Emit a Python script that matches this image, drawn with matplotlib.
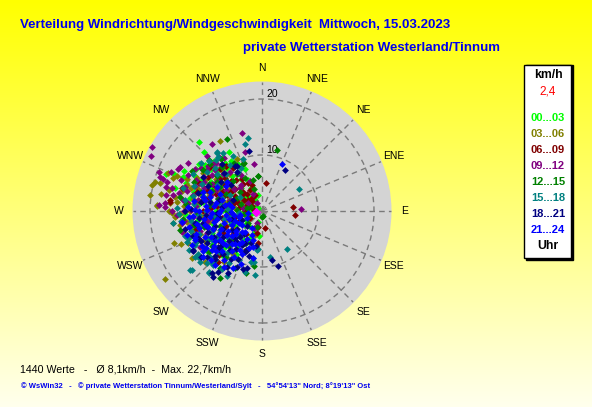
import numpy as np
import matplotlib
matplotlib.use("Agg")
import matplotlib.pyplot as plt
from matplotlib.patches import Circle, Rectangle

plt.rcParams['font.family'] = ['Liberation Sans', 'DejaVu Sans']

# ── data (direction in degrees, speed in km/h) ──────────────────────────────

DIRECTIONS = ["N", "NNE", "NE", "ENE", "E", "ESE", "SE", "SSE",
              "S", "SSW", "SW", "WSW", "W", "WNW", "NW", "NNW"]
RINGS = [10, 20]
R_MAX = 23.0

HOUR_LABELS = ["00...03", "03...06", "06...09", "09...12",
               "12...15", "15...18", "18...21", "21...24"]
HOUR_COLORS = ["#00ff00", "#808000", "#800000", "#800080",
               "#008000", "#008080", "#000080", "#0000ff"]

H00_03 = [(317.6, 16.6), (315.5, 14.8), (331.1, 12.1), (306.7, 14.0), (308.9, 13.1),
          (336.2, 6.1), (291.2, 18.3), (292.5, 17.1), (293.4, 15.4), (210.6, 9.1),
          (186, 4.5), (211, 9.0), (300, 10.5), (296, 12.2), (288, 11.0), (305, 8.8),
          (312, 9.5), (320, 8.2), (326, 6.8), (318, 5.5), (300, 6.4), (290, 7.8),
          (282, 9.6), (275, 11.5), (270, 8.2), (262, 6.0), (255, 9.0), (248, 7.2),
          (240, 5.5), (232, 8.8), (225, 6.2), (265, 3.5), (275, 4.6), (285, 3.1),
          (295, 2.4), (308, 3.8), (260, 1.8), (250, 2.6), (240, 3.2), (230, 4.0),
          (220, 3.5), (245, 11.0), (255, 12.5), (268, 13.8), (280, 13.0), (290, 14.5),
          (298, 13.5), (310, 11.8), (322, 10.8), (284, 5.6), (272, 6.9), (258, 4.4),
          (246, 9.8), (236, 10.5), (226, 9.2), (216, 7.4), (205, 5.9), (200, 4.2),
          (265, 10.3), (278, 2.2), (300, 1.5), (345, 3.0), (335, 4.6), (252, 5.3),
          (262, 11.6), (327, 2.3), (300, 0.9), (250, 1.3), (204, 5.3), (212, 6.1),
          (200, 2.1), (303, 11.2), (307, 12.8), (313, 10.8), (316, 12.4), (321, 9.8),
          (324, 12.0), (328, 10.6), (333, 9.4), (338, 8.0), (302, 14.0), (294, 10.0),
          (286, 12.6), (279, 10.6), (285, 16.0), (297, 15.6), (274, 9.4), (266, 8.0),
          (258, 10.8), (250, 13.6), (241, 8.0), (234, 12.2), (222, 10.6), (214, 5.0),
          (292, 5.4), (304, 4.6), (318, 3.4), (280, 7.0), (270, 2.6)]

H03_06 = [(292, 18.2), (329, 14.6), (334, 10.3), (234.9, 21.2), (250.2, 16.7),
          (272.9, 18.7), (268.9, 16.0), (290.2, 16.9), (292.3, 16.4), (285.3, 19.8),
          (283.3, 20.2), (285.2, 18.9), (289, 14.2), (279.5, 18.3), (276.2, 15.3),
          (278.1, 20.2), (273.3, 18.7), (255.3, 14.5), (216.6, 11.3), (280, 12.5),
          (285, 11.2), (290, 10.4), (278, 9.0), (270, 12.8), (265, 11.0), (272, 7.5),
          (282, 6.8), (295, 8.5), (300, 11.5), (305, 10.0), (288, 13.4), (262, 13.6),
          (258, 9.6), (250, 11.8), (244, 8.4), (238, 12.2), (230, 10.8), (276, 4.8),
          (292, 4.2), (310, 6.5), (318, 8.8), (284, 14.8), (268, 14.6), (255, 6.8),
          (240, 6.0), (226, 7.6), (214, 9.2), (205, 7.8), (195, 4.5), (300, 3.5),
          (260, 3.8), (247, 14.4), (262, 16.0), (275, 16.5), (274, 14.0), (277, 12.0),
          (281, 10.6), (286, 9.8), (289, 12.0), (293, 14.6), (297, 13.0), (303, 12.6),
          (279, 15.8), (283, 17.0), (270, 16.6), (266, 15.6), (260, 14.8), (253, 13.0),
          (248, 15.6), (243, 11.6), (236, 15.0), (228, 13.6), (268, 6.0), (288, 6.2),
          (304, 7.0), (316, 10.2)]

H06_09 = [(7.6, 5.0), (82.1, 5.6), (97, 5.9), (169.6, 3.0), (193.4, 4.1), (193, 2.9),
          (186.5, 5.8), (220.8, 12.0), (276.8, 16.5), (285.8, 14.9), (321.3, 10.4),
          (275.8, 16.5), (336.4, 3.1), (316, 4.8), (288, 4.5), (291.4, 2.9), (301, 6.7),
          (290.3, 7.4), (238.7, 2.5), (321, 10.3), (300, 5.5), (310, 6.2), (318, 4.0),
          (325, 5.8), (295, 6.8), (285, 5.2), (278, 6.4), (305, 8.0), (312, 8.9),
          (320, 7.2), (330, 4.4), (290, 8.8), (282, 10.2), (298, 9.8), (308, 3.2),
          (296, 2.0), (270, 3.0), (265, 5.4), (276, 8.0), (260, 7.2), (250, 9.4),
          (240, 8.0), (232, 6.6), (245, 4.8), (286, 12.0), (302, 11.4), (315, 10.5),
          (326, 9.2), (340, 5.0), (270, 10.6), (255, 12.2), (228, 10.6), (215, 5.0),
          (205, 3.4), (287, 2.5), (275, 1.5), (293, 5.0), (297, 7.8), (301, 3.8),
          (304, 6.4), (307, 9.4), (311, 4.6), (314, 7.6), (316, 2.6), (322, 3.0),
          (328, 6.8), (334, 5.6), (281, 4.0), (284, 7.8), (288, 6.0), (291, 10.6),
          (294, 12.4), (279, 11.4), (273, 9.2), (268, 7.8), (262, 10.2), (257, 5.0),
          (248, 7.0), (236, 9.4), (224, 11.0), (310, 12.2)]

H09_12 = [(300.4, 22.7), (296.4, 22.2), (290.6, 19.6), (296.6, 16.7), (345.8, 14.4),
          (343.8, 10.9), (321.4, 12.4), (350.6, 8.5), (87.5, 7.0), (323.3, 14.9),
          (302.7, 15.8), (313.4, 12.1), (316, 11.8), (332.9, 3.4), (288.6, 19.2),
          (287.1, 17.8), (284.1, 16.6), (274.5, 17.4), (273.3, 18.5), (272.5, 17.3),
          (261.3, 14.5), (279.5, 17.4), (284.3, 17.6), (287.9, 18.6), (295, 13.0),
          (300, 12.0), (305, 13.4), (310, 12.6), (290, 12.8), (285, 13.8), (292, 11.2),
          (298, 10.2), (306, 11.0), (314, 9.6), (320, 9.0), (288, 9.5), (280, 11.6),
          (276, 13.2), (282, 15.2), (296, 14.8), (270, 14.0), (265, 12.4), (258, 13.0),
          (250, 13.8), (268, 9.2), (276, 7.0), (290, 6.0), (300, 7.4), (310, 7.8),
          (322, 6.0), (260, 10.0), (248, 10.6), (240, 12.8), (315, 13.8), (337.7, 5.7),
          (325, 1.7), (300, 2.8), (280, 3.4), (203, 2.4), (202, 3.3), (283, 12.6),
          (287, 14.4), (291, 15.4), (294, 12.0), (297, 11.6), (302, 14.2), (307, 12.2),
          (311, 11.2), (318, 11.0), (324, 11.6), (278, 14.2), (274, 11.8), (271, 12.6),
          (267, 15.2), (263, 14.0), (255, 14.8), (252, 11.6), (245, 12.2), (286, 8.2),
          (295, 9.0), (304, 9.6), (308, 6.4), (316, 5.6), (330, 7.4), (262, 9.0),
          (280, 16.2), (298, 16.6), (293, 17.6), (270, 16.0)]

H12_15 = [(334.2, 14.2), (339.4, 9.2), (14.1, 11.2), (353.5, 6.3), (167, 1.0),
          (194.4, 11.5), (216.2, 12.7), (338.2, 9.0), (344.3, 5.7), (353.8, 6.2),
          (314, 13.1), (183, 1.0), (198.7, 3.0), (212.2, 14.1), (187.9, 10.0),
          (206.3, 6.4), (285, 8.2), (292, 9.6), (300, 8.6), (308, 10.2), (316, 7.4),
          (322, 11.8), (330, 9.9), (278, 11.0), (270, 6.2), (262, 8.4), (255, 10.8),
          (248, 6.0), (240, 9.2), (232, 12.0), (224, 8.6), (218, 10.4), (210, 6.8),
          (288, 4.0), (298, 5.0), (312, 5.2), (275, 13.6), (264, 14.2), (245, 13.0),
          (305, 12.8), (295, 7.0), (281, 2.8), (260, 3.2), (230, 3.2), (222, 5.6),
          (300, 14.4), (287, 11.4), (293, 13.2), (297, 10.6), (303, 9.6), (311, 8.2),
          (318, 10.6), (326, 8.0), (333, 6.6), (276, 9.4), (268, 11.6), (258, 12.4),
          (250, 8.0), (242, 11.0), (235, 10.8), (228, 7.4), (214, 8.2), (205, 11.2),
          (283, 6.0), (272, 4.4), (290, 2.0), (340, 4.2), (312, 12.6), (280, 14.8),
          (257, 15.0)]

H15_18 = [(348.8, 13.2), (345.7, 12.3), (322.7, 13.2), (59.8, 7.7), (185.5, 6.9),
          (170, 8.3), (146.5, 8.2), (189, 9.2), (186.2, 11.5), (220.8, 14.5),
          (230, 16.4), (262.1, 16.0), (232.1, 13.3), (313.7, 13.0), (247.8, 14.5),
          (235.7, 14.5), (233.6, 13.8), (230.7, 14.3), (226.6, 13.6), (220.2, 14.6),
          (187.7, 7.0), (249.7, 14.0), (243.1, 13.4), (234.3, 14.0), (223.8, 12.1),
          (223.9, 13.0), (230.7, 16.6), (195.6, 11.3), (192.2, 9.3), (190.4, 8.6),
          (250, 12.0), (256, 10.5), (262, 12.8), (268, 14.8), (244, 11.0), (238, 9.4),
          (246, 8.2), (258, 7.0), (270, 10.0), (276, 12.2), (284, 10.8), (290, 13.0),
          (300, 9.2), (310, 10.4), (318, 12.2), (325, 10.0), (332, 11.2), (228, 12.4),
          (236, 13.8), (242, 14.8), (252, 14.4), (260, 5.4), (274, 6.0), (288, 7.6),
          (302, 4.6), (232, 7.8), (220, 9.8), (212, 11.0), (205, 9.6), (265, 8.6),
          (322.5, 13.1), (320.5, 12.4), (340, 9.8), (240, 10.4), (245, 12.8),
          (248, 9.6), (254, 13.2), (257, 11.6), (263, 14.6), (266, 11.2), (272, 15.2),
          (278, 13.8), (282, 12.6), (286, 14.6), (294, 11.8), (298, 14.0), (305, 12.0),
          (308, 13.8), (312, 11.4), (316, 9.2), (326, 12.4), (328, 8.2), (334, 8.6),
          (226, 10.6), (222, 13.0), (215, 12.6), (208, 13.2), (250, 5.8), (264, 4.2),
          (281, 7.8), (296, 6.4)]

H18_21 = [(348, 10.9), (329.3, 9.3), (29.3, 8.4), (168.8, 8.9), (163.5, 10.2),
          (195, 10.6), (218.9, 14.3), (239.8, 14.2), (200.6, 7.4), (207.8, 6.5),
          (330.8, 9.3), (327.9, 8.3), (240.4, 14.1), (216.9, 14.7), (202.3, 7.5),
          (227.1, 10.2), (212.2, 6.8), (220.6, 6.0), (224.7, 6.9), (210.8, 7.1),
          (202.7, 7.9), (219.4, 9.0), (230.8, 10.1), (248.9, 10.3), (258.2, 10.7),
          (215, 8.2), (222, 10.4), (228, 8.0), (235, 9.2), (240, 11.4), (245, 7.6),
          (252, 8.8), (260, 12.2), (266, 10.0), (272, 12.6), (280, 9.4), (286, 11.8),
          (295, 10.6), (305, 9.0), (212, 11.8), (206, 9.6), (230, 12.8), (250, 13.2),
          (238, 6.4), (218, 5.2), (262, 7.8), (275, 7.2), (290, 5.6), (310, 7.2),
          (196, 8.4), (200, 6.0), (244, 12.2), (226, 11.6), (234, 5.6), (268, 8.0),
          (204, 11.0), (209, 12.6), (213, 10.2), (216, 13.4), (221, 7.0), (224, 12.0),
          (229, 9.6), (233, 13.6), (237, 8.4), (242, 9.8), (247, 12.4), (254, 10.2),
          (257, 14.2), (264, 11.4), (270, 13.8), (278, 11.0), (284, 8.0), (300, 12.2),
          (315, 9.6), (320, 11.0), (255, 5.6), (246, 4.0), (226, 3.8), (198, 10.8),
          (190, 6.4)]

H21_24 = [(23.5, 9.1), (191, 8.6), (200, 7.0), (205, 8.4), (208, 5.6), (212, 9.6),
          (215, 7.2), (218, 11.0), (220, 4.8), (222, 8.0), (225, 10.2), (228, 6.2),
          (230, 9.0), (232, 11.4), (235, 7.6), (236, 4.4), (238, 10.0), (240, 12.4),
          (242, 8.6), (245, 6.0), (246, 11.2), (248, 13.0), (250, 9.4), (252, 7.2),
          (254, 4.2), (255, 11.6), (258, 13.4), (260, 8.2), (262, 10.4), (264, 6.4),
          (266, 12.4), (268, 9.0), (270, 11.2), (272, 7.4), (275, 10.0), (278, 12.2),
          (280, 8.4), (282, 6.0), (285, 9.6), (288, 11.0), (292, 8.0), (298, 9.2),
          (305, 7.8), (309.7, 8.2), (280.9, 10.4), (256.2, 10.5), (235.4, 9.1),
          (246.6, 13.0), (270.9, 12.0), (259.7, 4.0), (279, 6.7), (226, 12.6),
          (214, 12.0), (202, 10.2), (210, 3.6), (244, 3.0), (264, 2.6), (232, 13.4),
          (252, 14.0), (262, 14.4), (203, 4.6), (207, 11.4), (213, 6.6), (217, 9.0),
          (221, 12.8), (224, 5.2), (227, 8.8), (229, 11.0), (233, 5.8), (234, 10.6),
          (237, 12.0), (239, 7.0), (241, 4.6), (243, 10.2), (247, 8.0), (249, 5.2),
          (251, 12.4), (253, 10.0), (256, 6.0), (257, 8.8), (259, 11.8), (261, 5.0),
          (263, 9.4), (265, 13.0), (267, 7.6), (269, 5.6), (271, 9.8), (273, 13.2),
          (276, 8.6), (277, 5.4), (283, 10.8), (286, 7.4), (290, 9.8), (219, 7.6),
          (231, 7.0), (244, 14.0), (236, 12.8), (209, 8.0), (198, 5.4), (194, 6.6)]

GROUPS = [H00_03, H03_06, H06_09, H09_12, H12_15, H15_18, H18_21, H21_24]

CURRENT = (258, 1.1)   # latest value, 2,4 km/h
TITLE = "Verteilung Windrichtung/Windgeschwindigkeit  Mittwoch, 15.03.2023"
SUBTITLE = "private Wetterstation Westerland/Tinnum"
STATS = "1440 Werte   -   Ø 8,1km/h  -  Max. 22,7km/h"
FOOTER = ("© WsWin32   -   © private Wetterstation Tinnum/Westerland/Sylt   -   "
          "54°54'13\" Nord; 8°19'13\" Ost")

W, H = 592, 407
CX, CY, K = 262, 211, 5.6   # centre in px, px per km/h


def fx(px):
    return px / W


def fy(py):
    return 1 - py / H


def to_xy(d, s):
    t = np.radians(d)
    return s * np.sin(t), s * np.cos(t)


fig = plt.figure(figsize=(W / 100, H / 100), dpi=100)

# background gradient
bg = fig.add_axes([0, 0, 1, 1], zorder=-5)
t = np.linspace(0, 1, 256)[:, None]
img = np.dstack([np.ones((256, 1)), np.ones((256, 1)), 0.93 * t])
bg.imshow(img, aspect="auto", extent=[0, 1, 0, 1])
bg.set_axis_off()

# rose axes: +-28 km/h around the centre
half = 28 * K
ax = fig.add_axes([fx(CX - half), fy(CY + half), 2 * half / W, 2 * half / H])
ax.set_xlim(-28, 28)
ax.set_ylim(-28, 28)
ax.set_axis_off()
ax.patch.set_alpha(0)

ax.add_patch(Circle((0, 0), R_MAX, color="#d4d4d4", zorder=0))
for r in RINGS:
    ax.add_patch(Circle((0, 0), r, fill=False, ec="#7a7a7a", lw=1,
                        ls=(0, (4, 3)), zorder=1))
for i in range(16):
    x, y = to_xy(i * 22.5, R_MAX)
    ax.plot([0, x], [0, y], color="#7a7a7a", lw=1, ls=(0, (4, 3)), zorder=1)
    lx, ly = to_xy(i * 22.5, 25.5)
    ax.text(lx, ly, DIRECTIONS[i], ha="center", va="center", fontsize=7.5)
for r in RINGS:
    ax.text(1.8, r + 0.9, str(r), ha="center", va="center", fontsize=7.5, zorder=2)

for pts, col in zip(GROUPS, HOUR_COLORS):
    d = np.array([p[0] for p in pts])
    s = np.array([p[1] for p in pts])
    x, y = to_xy(d, s)
    ax.scatter(x, y, s=12, marker="D", color=col, linewidths=0, zorder=3)
cx, cy = to_xy(*CURRENT)
ax.scatter([cx], [cy], s=24, marker="D", color="#ff00ff", linewidths=0, zorder=4)

# titles
fig.text(fx(20), fy(25), TITLE, color="#0000ee", fontsize=9.5, fontweight="bold",
         va="center")
fig.text(fx(243), fy(48), SUBTITLE, color="#0000ee", fontsize=9.5,
         fontweight="bold", va="center")

# legend box
fig.patches.append(Rectangle((fx(526), fy(260)), fx(47), 195 / H, color="black",
                             transform=fig.transFigure, zorder=1))
fig.patches.append(Rectangle((fx(524), fy(258)), fx(47), 193 / H, fc="white",
                             ec="black", lw=1, transform=fig.transFigure, zorder=2))
lx = fx(548)
fig.text(lx, fy(75), "km/h", ha="center", va="center", fontsize=8.8,
         fontweight="bold", zorder=3)
fig.text(lx, fy(91), "2,4", ha="center", va="center", fontsize=8.5, color="#ff0000",
         zorder=3)
for i, (lab, col) in enumerate(zip(HOUR_LABELS, HOUR_COLORS)):
    fig.text(lx, fy(118 + i * 16), lab, ha="center", va="center", fontsize=8,
             fontweight="bold", color=col, zorder=3)
fig.text(lx, fy(246), "Uhr", ha="center", va="center", fontsize=8.8,
         fontweight="bold", zorder=3)

# footer
fig.text(fx(20), fy(369), STATS, fontsize=7.7, va="center")
fig.text(fx(21), fy(386), FOOTER, fontsize=5.5, fontweight="bold", color="#0000ee",
         va="center")

fig.savefig("out.png", dpi=100)
